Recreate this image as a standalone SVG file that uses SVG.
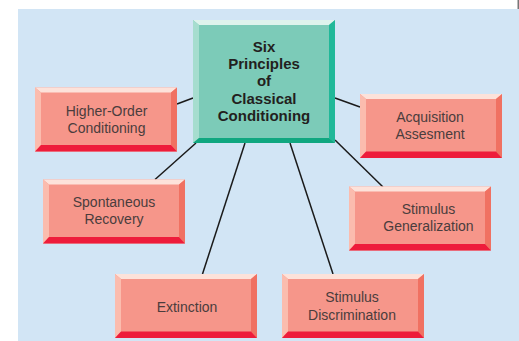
<svg xmlns="http://www.w3.org/2000/svg" xmlns:xlink="http://www.w3.org/1999/xlink" width="519" height="341" viewBox="0 0 519 341">
<style>
.lbl{font-family:"Liberation Sans",Arial,sans-serif;font-size:14px;fill:#4a3d3d;text-anchor:middle}
.ttl{font-family:"Liberation Sans",Arial,sans-serif;font-size:15px;font-weight:bold;fill:#231f20;text-anchor:middle}
.con line{stroke:#1a1a1a;stroke-width:1.5;fill:none}
</style>
<defs>
<g id="box">
<rect x="0" y="0" width="142" height="64" fill="#f6968a"/>
<polygon points="0,0 142,0 136,5 6,5" fill="#fde2da"/>
<polygon points="0,0 6,5 6,57.5 0,64" fill="#fbbcae"/>
<polygon points="142,0 142,64 136,57.5 136,5" fill="#f07162"/>
<polygon points="0,64 6,57.5 136,57.5 142,64" fill="#ee1c3b"/>
</g>
</defs>
<rect x="0" y="0" width="519" height="341" fill="#ffffff"/>
<rect x="18" y="9" width="501" height="332" fill="#d2e5f5"/>
<rect x="517.5" y="0" width="1.5" height="9" fill="#777777"/>
<g class="con" id="connectors">
<line x1="177" y1="104" x2="193" y2="98"/>
<line x1="155" y1="179.5" x2="196" y2="143"/>
<line x1="245" y1="143" x2="202.5" y2="274"/>
<line x1="290" y1="143" x2="333" y2="274"/>
<line x1="335" y1="140" x2="383" y2="187"/>
<line x1="335" y1="98" x2="360" y2="107"/>
</g>
<g id="center">
<rect x="193" y="20" width="142" height="123" fill="#7ccbb8"/>
<polygon points="193,20 335,20 329,25 199,25" fill="#def3ec"/>
<polygon points="193,20 199,25 199,138 193,143" fill="#a6ddcf"/>
<polygon points="335,20 335,143 329,138 329,25" fill="#20b899"/>
<polygon points="193,143 199,138 329,138 335,143" fill="#10a780"/>
<text class="ttl" x="264" y="51.5">Six</text>
<text class="ttl" x="264" y="68.5">Principles</text>
<text class="ttl" x="264" y="86">of</text>
<text class="ttl" x="264" y="104">Classical</text>
<text class="ttl" x="264" y="121">Conditioning</text>
</g>
<g id="higher-order">
<use xlink:href="#box" x="35" y="87.5"/>
<text class="lbl" x="106.5" y="115.5">Higher-Order</text>
<text class="lbl" x="106.5" y="132.5">Conditioning</text>
</g>
<g id="acquisition">
<use xlink:href="#box" x="360" y="94"/>
<text class="lbl" x="430" y="121.5">Acquisition</text>
<text class="lbl" x="430" y="138.5">Assesment</text>
</g>
<g id="spontaneous">
<use xlink:href="#box" x="43" y="179.5"/>
<text class="lbl" x="114" y="206.5">Spontaneous</text>
<text class="lbl" x="114" y="224">Recovery</text>
</g>
<g id="generalization">
<use xlink:href="#box" x="349" y="186.5"/>
<text class="lbl" x="428.5" y="214">Stimulus</text>
<text class="lbl" x="428.5" y="230.5">Generalization</text>
</g>
<g id="extinction">
<use xlink:href="#box" x="115" y="274"/>
<text class="lbl" x="187" y="312">Extinction</text>
</g>
<g id="discrimination">
<use xlink:href="#box" x="282" y="274"/>
<text class="lbl" x="352" y="302">Stimulus</text>
<text class="lbl" x="352" y="320">Discrimination</text>
</g>
</svg>
